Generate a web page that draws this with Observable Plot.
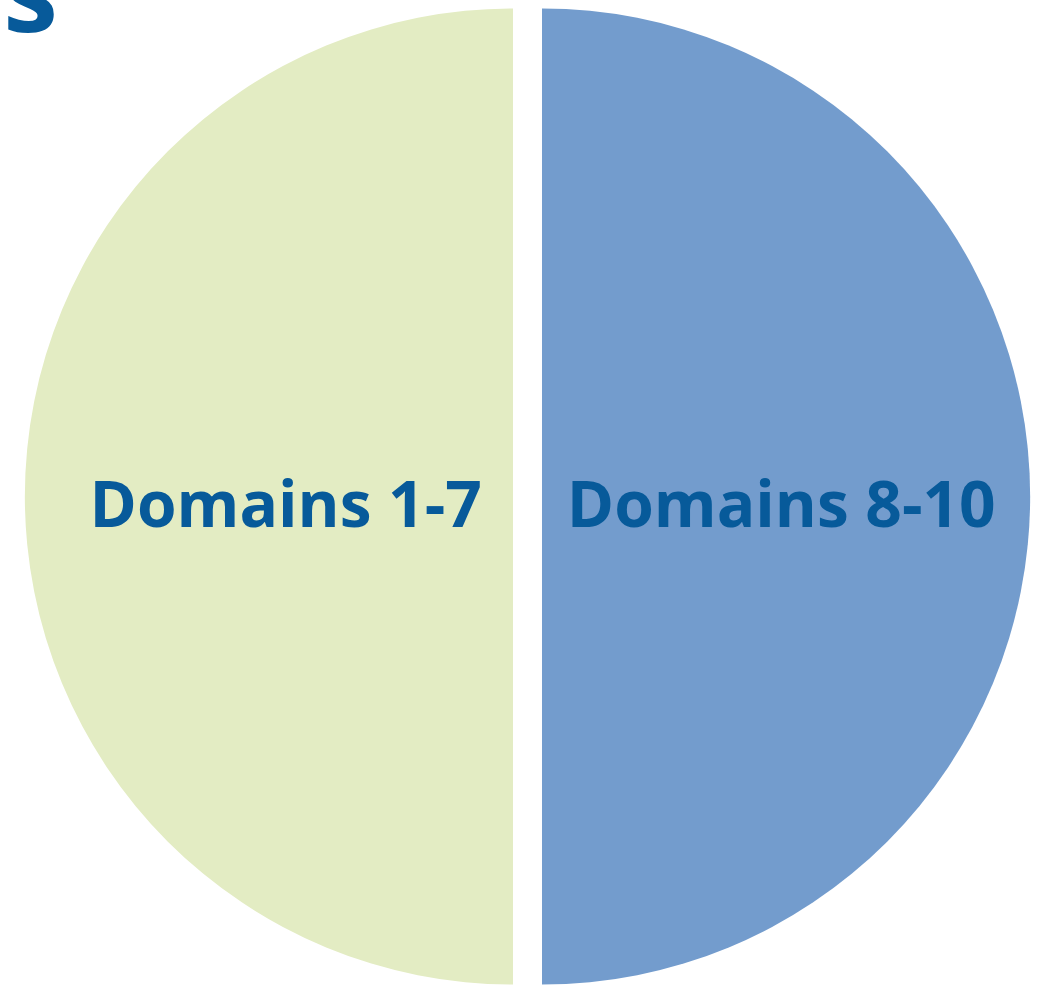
<!DOCTYPE html>
<html>
<head>
<meta charset="utf-8">
<script src="https://cdn.jsdelivr.net/npm/d3@7"></script>
<script src="https://cdn.jsdelivr.net/npm/@observablehq/plot@0.6"></script>
<style>
  html, body { margin: 0; padding: 0; background: #ffffff; overflow: hidden; }
  #wrap { position: relative; width: 1045px; height: 987px; }
  #title { position: absolute; right: 987px; top: -66px; font-family: "Open Sans", sans-serif; font-weight: 700; font-size: 110px; color: #075a9a; white-space: nowrap; line-height: 1; }
</style>
</head>
<body>
<div id="wrap">
  <div id="title">s</div>
</div>
<script>
const categories = ["Domains 1-7", "Domains 8-10"];
const values = [50, 50];
const colors = ["#e3ecc3", "#739ccd"];
const labelColor = "#075a9a";

const explode = 0.0297;      // slice offset, in radius units
const labelRadius = 0.478;   // label distance from center, in radius units

const pie = d3.pie().value(d => d.value).sort(null)
  .startAngle(Math.PI).endAngle(3 * Math.PI);
const slices = pie(categories.map((c, i) => ({category: c, value: values[i]})));
const table = slices.map(s => {
  const mid = (s.startAngle + s.endAngle) / 2;
  return {
    category: s.data.category,
    startAngle: s.startAngle,
    endAngle: s.endAngle,
    dx: explode * Math.sin(mid),
    dy: explode * Math.cos(mid),
    lx: (explode + labelRadius) * Math.sin(mid),
    ly: (explode + labelRadius) * Math.cos(mid)
  };
});

const color = d3.scaleOrdinal(categories, colors);

function pieMark(index, scales, vals, dimensions) {
  const x = scales.x, y = scales.y;
  const r = x(1) - x(0);
  const g = d3.create("svg:g");
  const arc = d3.arc().innerRadius(0).outerRadius(r);
  for (const s of table) {
    g.append("path")
      .attr("transform", `translate(${x(s.dx)},${y(s.dy)})`)
      .attr("d", arc({startAngle: s.startAngle, endAngle: s.endAngle}))
      .attr("fill", color(s.category));
  }
  return g.node();
}

const chart = Plot.plot({
  width: 1045,
  height: 987,
  marginLeft: 39.5,
  marginRight: 29.5,
  marginTop: 8.5,
  marginBottom: 2.5,
  x: {domain: [-1, 1], axis: null},
  y: {domain: [-1, 1], axis: null},
  style: {background: "transparent", overflow: "visible"},
  marks: [
    pieMark,
    Plot.text(table, {
      x: "lx", y: "ly", text: "category",
      fill: labelColor,
      fontSize: 64, fontWeight: 700,
      fontFamily: "Open Sans",
      dx: 5.5,
      dy: 10
    })
  ]
});
document.getElementById("wrap").prepend(chart);
</script>
</body>
</html>
